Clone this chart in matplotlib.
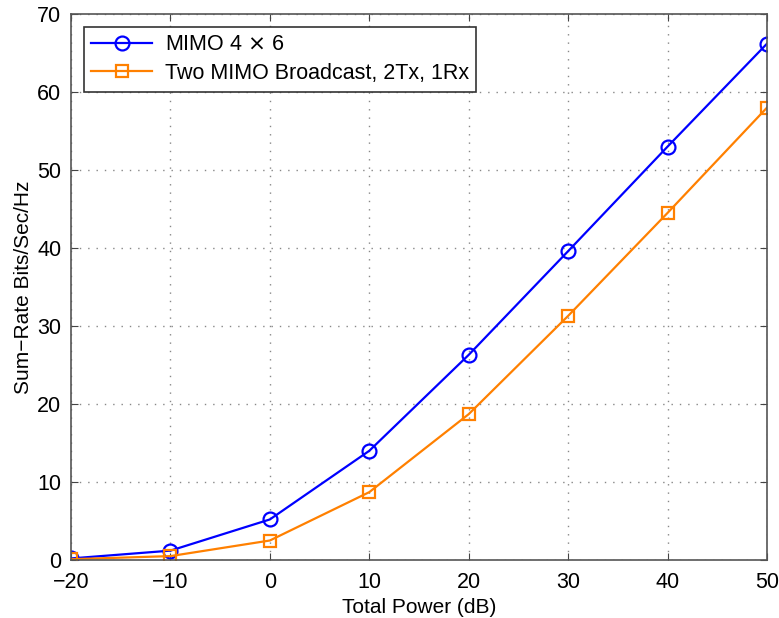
import matplotlib
matplotlib.use("Agg")
import matplotlib.pyplot as plt

power_db = [-20, -10, 0, 10, 20, 30, 40, 50]
mimo_4x6 = [0.2, 1.2, 5.2, 14.0, 26.3, 39.6, 53.0, 66.2]
broadcast = [0.1, 0.5, 2.5, 8.7, 18.7, 31.3, 44.5, 58.0]
xticks = [-20, -10, 0, 10, 20, 30, 40, 50]
yticks = [0, 10, 20, 30, 40, 50, 60, 70]

plt.rcParams['font.family'] = ['Liberation Sans', 'DejaVu Sans']
plt.rcParams['axes.unicode_minus'] = True

fig = plt.figure(figsize=(7.79, 6.18), dpi=100)
ax = fig.add_axes([71/779, 1-560/618, (767-71)/779, (560-14)/618])

ax.plot(power_db, mimo_4x6, '-o', color='#0000FF', lw=1.6, ms=10,
        mfc='none', mew=1.6, label=r'MIMO 4 $\times$ 6')
ax.plot(power_db, broadcast, '-s', color='#FF8000', lw=1.6, ms=8.5,
        mfc='none', mew=1.6, label='Two MIMO Broadcast, 2Tx, 1Rx')

ax.set_xlim(-20, 50)
ax.set_ylim(0, 70)
ax.set_xticks(xticks)
ax.set_yticks(yticks)
ax.set_xticklabels([str(t).replace('-', '\u2212') for t in xticks])
ax.tick_params(direction='in', top=True, right=True, labelsize=15.5, length=5,
               color='#444444')
ax.tick_params(axis='x', pad=9)
ax.tick_params(axis='y', pad=7)
ax.grid(True, linestyle=(0, (1, 5)), color='#888888', lw=1)
for s in ax.spines.values():
    s.set_color('#555555')
    s.set_linewidth(1.2)

ax.set_xlabel('Total Power (dB)', fontsize=15, labelpad=3)
ax.set_ylabel('Sum\u2212Rate Bits/Sec/Hz', fontsize=15, labelpad=3)

leg = ax.legend(loc='upper left', fontsize=15.5, fancybox=False, framealpha=1,
                edgecolor='#333333', borderaxespad=0.6, handlelength=2.8,
                borderpad=0.35, labelspacing=0.35, handletextpad=0.6)
leg.get_frame().set_linewidth(1.2)

fig.savefig('out.png', dpi=100)
